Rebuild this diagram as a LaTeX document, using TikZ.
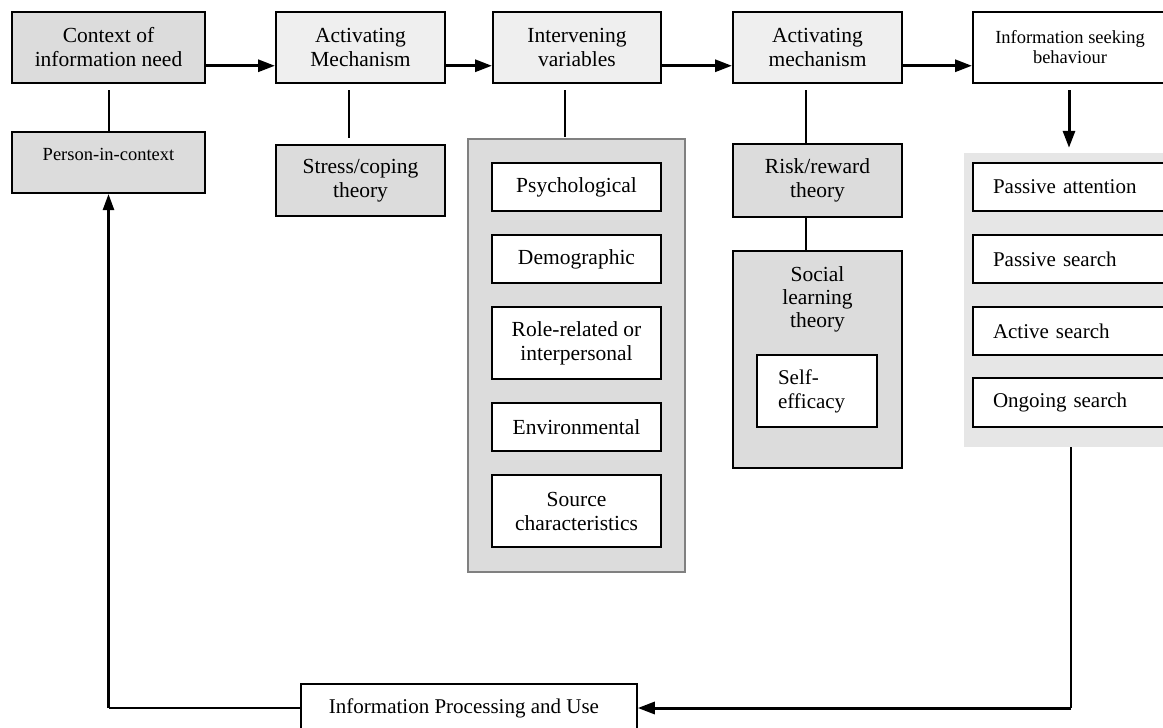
\documentclass[tikz,border=0pt]{standalone}
\usepackage{fontspec}
\setmainfont{Liberation Serif}
\usetikzlibrary{arrows.meta,calc}
\definecolor{darkfill}{RGB}{220,220,220}
\definecolor{lightfill}{RGB}{239,239,239}
\definecolor{panelfill}{RGB}{230,230,230}
\definecolor{panelline}{RGB}{128,128,128}
\begin{document}
\begin{tikzpicture}[x=1pt,y=-1pt,
  box/.style={draw, line width=2pt, inner sep=0pt, align=center, font=\fontsize{21.5}{24}\selectfont},
  smallbox/.style={box, font=\fontsize{18.5}{20}\selectfont},
  leftbox/.style={draw, line width=2pt, fill=white, inner ysep=0pt, inner xsep=20pt, align=left, font=\fontsize{21}{24}\selectfont},
  ln/.style={line width=2pt},
  arr/.style={line width=3pt, -{Triangle[length=17pt,width=12pt]}},
  arrthin/.style={line width=2.4pt, -{Triangle[length=16pt,width=11pt]}}]
\useasboundingbox (0,0) rectangle (1163,728);
\clip (0,0) rectangle (1163,728);

% top row
\node[box, fill=darkfill, minimum width=193pt, minimum height=71pt] (ctx) at (108.5,47.5) {Context of\\information need};
\node[box, fill=lightfill, minimum width=169pt, minimum height=71pt] (am1) at (360.5,47.5) {Activating\\Mechanism};
\node[box, fill=lightfill, minimum width=168pt, minimum height=71pt] (iv) at (577,47.5) {Intervening\\variables};
\node[box, fill=lightfill, minimum width=169pt, minimum height=71pt] (am2) at (817.5,47.5) {Activating\\mechanism};
\node[smallbox, fill=white, minimum width=194pt, minimum height=71pt] (isb) at (1070,47.5) {Information seeking\\behaviour};

% second level
\node[smallbox, fill=darkfill, minimum width=193pt, minimum height=61pt, text height=12pt, text depth=17pt] (pic) at (108.5,162.5) {Person-in-context};
\node[box, fill=darkfill, minimum width=169pt, minimum height=71pt] (sc) at (360.5,180.5) {Stress/coping\\theory};
\node[box, fill=darkfill, minimum width=169pt, minimum height=73pt] (rr) at (817.5,180.5) {Risk/reward\\theory};

% intervening panel
\node[draw=panelline, line width=1.2pt, fill=darkfill, inner sep=0pt, minimum width=217pt, minimum height=433pt] (ivp) at (576.5,355.5) {};
\node[box, fill=white, minimum width=169pt, minimum height=48pt] (psy) at (576.5,187) {Psychological};
\node[box, fill=white, minimum width=169pt, minimum height=48pt] (demo) at (576.5,259) {Demographic};
\node[box, fill=white, minimum width=169pt, minimum height=72pt] (role) at (576.5,343) {Role-related or\\interpersonal};
\node[box, fill=white, minimum width=169pt, minimum height=48pt] (env) at (576.5,427) {Environmental};
\node[box, fill=white, minimum width=169pt, minimum height=72pt] (src) at (576.5,511) {Source\\characteristics};

% social learning
\node[draw, line width=2pt, fill=darkfill, inner sep=0pt, minimum width=169pt, minimum height=217pt] (slt) at (817.5,359.5) {};
\node[inner sep=0pt, align=center, font=\fontsize{21.5}{23}\selectfont] (sltt) at (817.5,299) {Social\\learning\\theory};
\node[leftbox, inner xsep=21pt, text width=78pt, minimum height=72pt] (se) at (817,391) {Self-\\efficacy};

% right panel
\node[fill=panelfill, inner sep=0pt, minimum width=211pt, minimum height=294pt] (rpanel) at (1069.5,300) {};
\node[leftbox, text width=162pt, minimum height=48pt] (pa) at (1074,187) {Passive attention};
\node[leftbox, text width=162pt, minimum height=48pt] (ps) at (1074,259) {Passive search};
\node[leftbox, text width=162pt, minimum height=48pt] (as) at (1074,331) {Active search};
\node[leftbox, text width=162pt, minimum height=49pt] (os) at (1074,402.5) {Ongoing search};

% bottom
\node[box, line width=1.5pt, fill=white, minimum width=336pt, minimum height=48pt, font=\fontsize{21}{24}\selectfont] (ipu) at (469,708) {Information Processing and Use\hspace*{10pt}};

% top arrows
\draw[arr] ($(ctx.south east)!0.25!(ctx.north east)$) -- ($(am1.south west)!0.25!(am1.north west)$);
\draw[arr] ($(am1.south east)!0.25!(am1.north east)$) -- ($(iv.south west)!0.25!(iv.north west)$);
\draw[arr] ($(iv.south east)!0.25!(iv.north east)$) -- ($(am2.south west)!0.25!(am2.north west)$);
\draw[arr] ($(am2.south east)!0.25!(am2.north east)$) -- ($(isb.south west)!0.25!(isb.north west)$);

% vertical links
\draw[ln, shorten <=6pt] (ctx.south) -- (pic.north);
\draw[ln, shorten <=6pt, shorten >=6pt] ([xshift=-11.5pt]am1.south) -- ([xshift=-11.5pt]sc.north);
\draw[ln, shorten <=6pt, shorten >=1pt] ([xshift=-12pt]iv.south) -- ([xshift=-12pt]iv.south |- ivp.north);
\draw[ln, shorten <=6pt] ([xshift=-11.5pt]am2.south) -- ([xshift=-11.5pt]rr.north);
\draw[ln] ([xshift=-11.5pt]rr.south) -- ([xshift=-11.5pt]slt.north);
\draw[arr, shorten <=6pt] ([xshift=-1pt]isb.south) -- ([xshift=-0.5pt,yshift=5pt]rpanel.north);

% feedback loop
\coordinate (rc) at ([xshift=1.5pt]rpanel.south |- ipu.east);
\coordinate (lc) at (pic.south |- ipu.west);
\draw[ln] ([xshift=1.5pt]rpanel.south) -- (rc);
\draw[arr] (rc) -- (ipu.east);
\draw[ln] (ipu.west) -- (lc);
\draw[arrthin] (lc) -- (pic.south);
\end{tikzpicture}
\end{document}
